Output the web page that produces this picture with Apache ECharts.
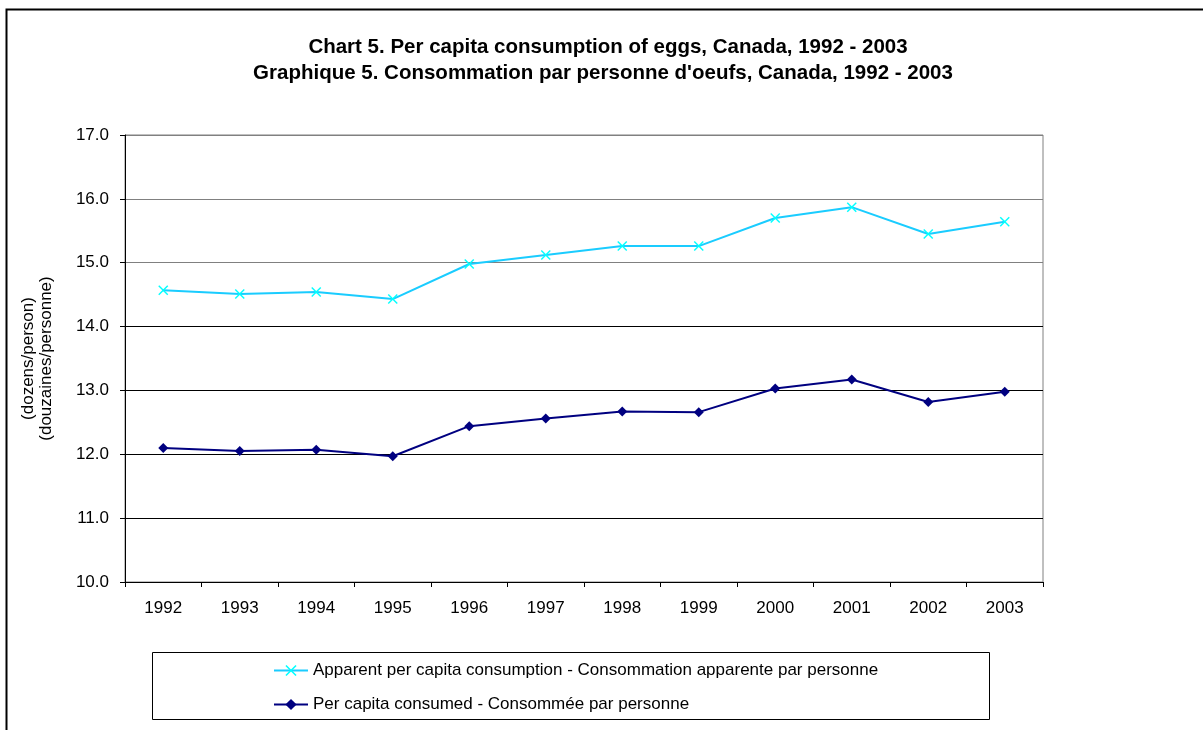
<!DOCTYPE html>
<html>
<head>
<meta charset="utf-8">
<script src="https://cdn.jsdelivr.net/npm/echarts@6/dist/echarts.min.js"></script>
<style>
  html, body { margin: 0; padding: 0; background: #fff; }
  #chart { width: 1203px; height: 730px; }
</style>
</head>
<body>
<div id="chart"></div>
<script>
// years on the x axis
var years = ['1992', '1993', '1994', '1995', '1996', '1997', '1998', '1999', '2000', '2001', '2002', '2003'];
// dozens per person
var apparent = [14.57, 14.51, 14.54, 14.43, 14.98, 15.12, 15.26, 15.26, 15.70, 15.87, 15.45, 15.64];
var consumed = [12.10, 12.05, 12.07, 11.97, 12.44, 12.56, 12.67, 12.66, 13.03, 13.17, 12.82, 12.98];

var titleLines = [
  'Chart 5. Per capita consumption of eggs, Canada, 1992 - 2003',
  'Graphique 5. Consommation par personne d\'oeufs, Canada, 1992 - 2003'
];

var FONT = 'Arial, "Liberation Sans", sans-serif';
var xMark = 'path://M0,1L1,0L5,4L9,0L10,1L6,5L10,9L9,10L5,6L1,10L0,9L4,5Z';

var chart = echarts.init(document.getElementById('chart'));

var option = {
  backgroundColor: '#fff',
  animation: false,
  textStyle: { fontFamily: FONT },
  grid: {
    left: 125,
    right: 160,
    top: 135,
    bottom: 148,
    show: true,
    borderColor: '#808080',
    borderWidth: 1
  },
  legend: {
    orient: 'vertical',
    left: 268,
    top: 657,
    itemWidth: 34,
    itemHeight: 14,
    itemGap: 17,
    textStyle: { fontFamily: FONT, fontSize: 17, color: '#000' },
    data: [
      'Apparent per capita consumption - Consommation apparente par personne',
      'Per capita consumed - Consommée par personne'
    ]
  },
  xAxis: {
    type: 'category',
    data: years,
    boundaryGap: true,
    axisLine: { lineStyle: { color: '#000', width: 1 } },
    axisTick: { show: true, length: 5, inside: false, lineStyle: { color: '#000' } },
    axisLabel: { fontFamily: FONT, fontSize: 17, color: '#000', margin: 18 }
  },
  yAxis: {
    type: 'value',
    min: 10,
    max: 17,
    interval: 1,
    name: '(dozens/person)\n(douzaines/personne)',
    nameLocation: 'middle',
    nameRotate: 90,
    nameGap: 70,
    nameTextStyle: { fontFamily: FONT, fontSize: 17, color: '#000', lineHeight: 18 },
    axisLine: { show: true, lineStyle: { color: '#000', width: 1 } },
    axisTick: { show: true, length: 5, lineStyle: { color: '#000' } },
    axisLabel: {
      fontFamily: FONT, fontSize: 17, color: '#000', margin: 16,
      formatter: function (v) { return v.toFixed(1); }
    },
    splitLine: {
      show: true,
      lineStyle: {
        color: ['#000', '#000', '#000', '#000', '#000', '#808080', '#808080', '#808080'],
        width: 1
      }
    }
  },
  series: [
    {
      name: 'Apparent per capita consumption - Consommation apparente par personne',
      type: 'line',
      data: apparent,
      symbol: xMark,
      symbolSize: 10,
      lineStyle: { color: '#1ACCFF', width: 2 },
      itemStyle: { color: '#00FFFF' }
    },
    {
      name: 'Per capita consumed - Consommée par personne',
      type: 'line',
      data: consumed,
      symbol: 'diamond',
      symbolSize: 10,
      lineStyle: { color: '#000080', width: 2 },
      itemStyle: { color: '#000080' }
    }
  ],
  graphic: [
    {
      type: 'text',
      x: 608,
      y: 47,
      style: {
        text: titleLines[0],
        fontFamily: FONT, fontSize: 20.5, fontWeight: 'bold', fill: '#000',
        textAlign: 'center', textVerticalAlign: 'middle'
      }
    },
    {
      type: 'text',
      x: 603,
      y: 73,
      style: {
        text: titleLines[1],
        fontFamily: FONT, fontSize: 20.5, fontWeight: 'bold', fill: '#000',
        textAlign: 'center', textVerticalAlign: 'middle'
      }
    },
    {
      type: 'rect',
      shape: { x: 6.5, y: 9.5, width: 1300, height: 800 },
      style: { fill: 'none', stroke: '#000', lineWidth: 2 },
      z: -1
    },
    {
      type: 'rect',
      shape: { x: 152.5, y: 652.5, width: 837, height: 67 },
      style: { fill: 'none', stroke: '#000', lineWidth: 1 },
      z: -1
    }
  ]
};

chart.setOption(option);
</script>
</body>
</html>
